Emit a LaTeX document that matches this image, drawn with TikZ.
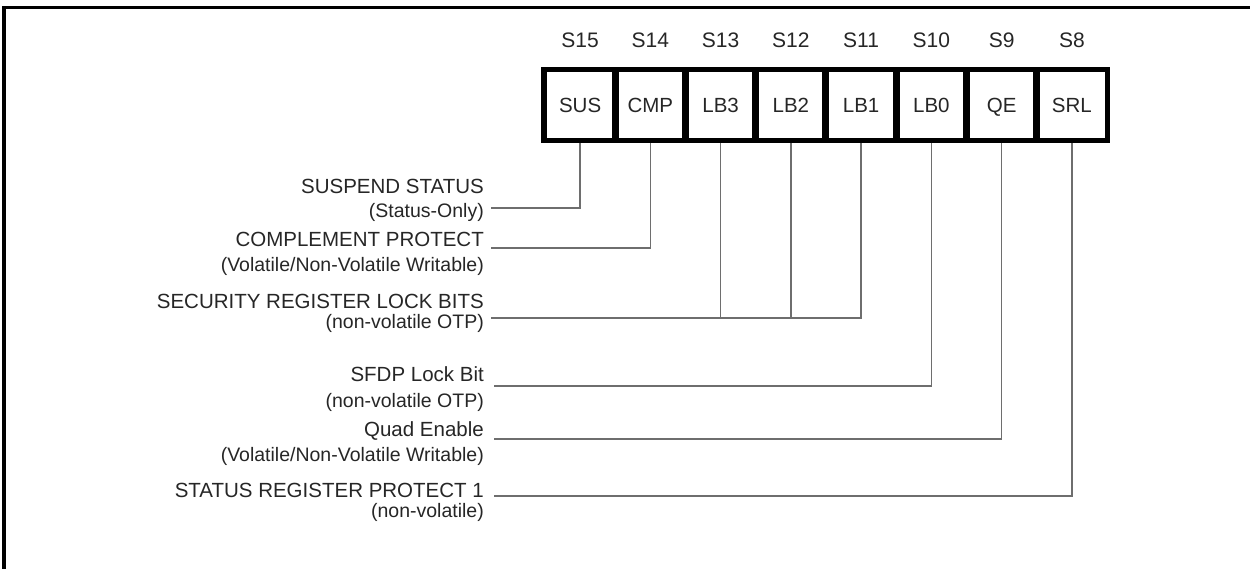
\documentclass[tikz,border=0pt]{standalone}
\usepackage{fontspec}
\setmainfont{Liberation Sans}
\definecolor{wiregray}{HTML}{6E6E6E}
\definecolor{inkgray}{HTML}{262626}
\tikzset{
  bitcell/.style={draw=black,line width=3.5pt,minimum width=70.25pt,minimum height=69pt,
    inner sep=0pt,font=\fontsize{20.5}{22}\selectfont,text=inkgray,anchor=base},
  bitname/.style={font=\fontsize{21}{23}\selectfont,text=inkgray,anchor=base,inner sep=0pt},
  desctitle/.style={font=\fontsize{20.5}{22}\selectfont,text=inkgray,anchor=base east,inner sep=0pt},
  descsub/.style={font=\fontsize{19.5}{21}\selectfont,text=inkgray,anchor=base east,inner sep=0pt},
  wire/.style={draw=wiregray,line width=1.6pt}
}
\begin{document}
\begin{tikzpicture}[x=1pt,y=-1pt,line cap=rect,line join=miter]

\clip (0,0) rectangle (1250,568);

% ---- outer frame (runs off the right and bottom edges) ----
\draw[line width=3.3pt] (4,620) -- (4,7.7) -- (1300,7.7);

% ---- register cells S15..S8 with their bit numbers ----
\foreach \nm/\lbl/\bit [count=\i from 0] in
  {sus/SUS/15,cmp/CMP/14,lbc/LB3/13,lbb/LB2/12,lba/LB1/11,lbz/LB0/10,qe/QE/9,srl/SRL/8}{
  \node[bitcell,text depth=0pt] (\nm) at ({580.1+70.25*\i},112) {\lbl};
  \node[bitname] (h\nm) at ({580.1+70.25*\i},47) {S\bit};
}

% ---- descriptions ----
\node[desctitle] (tsus) at (484,193) {SUSPEND STATUS};
\node[descsub]   (ssus) at (484,217) {(Status-Only)};
\node[desctitle] (tcmp) at (484,246) {COMPLEMENT PROTECT};
\node[descsub]   (scmp) at (484,271.5) {(Volatile/Non-Volatile Writable)};
\node[desctitle] (tlb)  at (484,308) {SECURITY REGISTER LOCK BITS};
\node[descsub]   (slb)  at (484,328) {(non-volatile OTP)};
\node[desctitle] (tsfdp) at (484,381) {SFDP Lock Bit};
\node[descsub]   (ssfdp) at (484,407) {(non-volatile OTP)};
\node[desctitle] (tqe)  at (484,436) {Quad Enable};
\node[descsub]   (sqe)  at (484,461) {(Volatile/Non-Volatile Writable)};
\node[desctitle] (tsrl) at (484,497) {STATUS REGISTER PROTECT 1};
\node[descsub]   (ssrl) at (484,517) {(non-volatile)};

% ---- free ends of the connectors ----
\coordinate (esus) at (492,208);
\coordinate (ecmp) at (492,248);
\coordinate (elb)  at (492,318);
\coordinate (elbz) at (495,386);
\coordinate (eqe)  at (495,439);
\coordinate (esrl) at (495,496);

% ---- connectors ----
\draw[wire] (sus.south) |- (esus);
\draw[wire] (cmp.south) |- (ecmp);
\draw[wire] (lba.south) |- (elb);
\draw[wire] (lbb.south) -- (lbb.south |- elb);
\draw[wire] (lbc.south) -- (lbc.south |- elb);
\draw[wire] (lbz.south) |- (elbz);
\draw[wire] (qe.south)  |- (eqe);
\draw[wire] (srl.south) |- (esrl);

% redraw cells on top of the wire ends
\foreach \nm in {sus,cmp,lbc,lbb,lba,lbz,qe,srl}
  \draw[line width=3.5pt] (\nm.south west) rectangle (\nm.north east);

\end{tikzpicture}
\end{document}
